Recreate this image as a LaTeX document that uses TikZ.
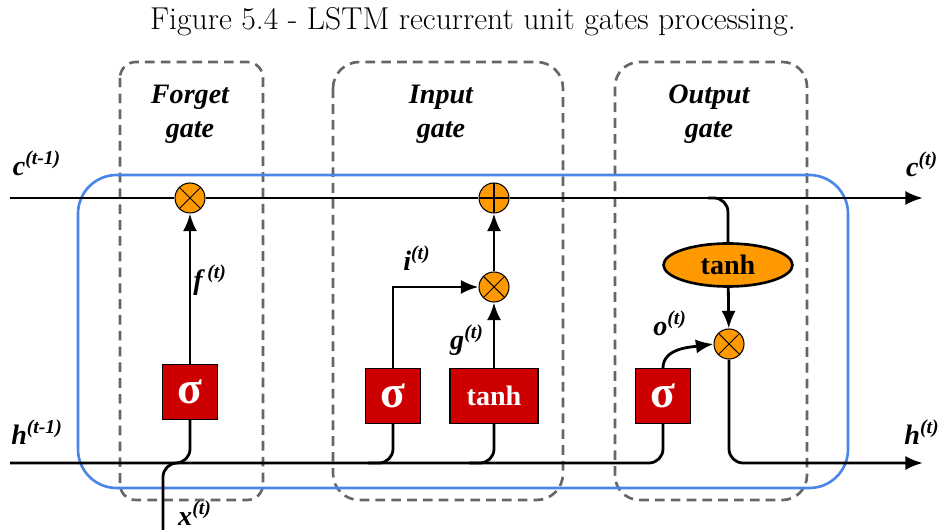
\documentclass[tikz,border=0pt]{standalone}
\usepackage{fontspec}
\newfontfamily\timesfont{Liberation Serif}
\definecolor{gateorange}{RGB}{255, 153, 0}
\definecolor{gatered}{RGB}{204, 0, 0}
\definecolor{cellblue}{RGB}{74, 134, 232}
\definecolor{dashgray}{RGB}{102, 102, 102}
\usetikzlibrary{shapes.geometric, arrows.meta, positioning, calc}

\begin{document}
\begin{tikzpicture}[x=0.02cm, y=-0.02cm,
    flow/.style={line width=1.6pt, black},
    arr/.style={flow, -{Latex[length=10pt, width=8pt]}},
    gatebox/.style={draw=dashgray, line width=1.5pt, dash pattern=on 5.5pt off 3.5pt},
    cellbox/.style={draw=cellblue, line width=1.5pt, rounded corners=22pt},
    sigbox/.style={draw, rectangle, fill=gatered, line width=0.6pt, minimum width=1.1cm, minimum height=1.1cm, inner sep=0pt, text=white, font=\timesfont\bfseries\fontsize{26}{26}\selectfont},
    tanhbox/.style={sigbox, minimum width=1.76cm, font=\timesfont\bfseries\fontsize{16}{16}\selectfont},
    tanhell/.style={draw, ellipse, fill=gateorange, line width=1.5pt, minimum width=2.58cm, minimum height=0.86cm, inner sep=0pt, font=\timesfont\bfseries\fontsize{16}{16}\selectfont},
    opcircle/.style={draw, circle, fill=gateorange, line width=0.6pt, minimum size=0.6cm, inner sep=0pt},
    mult/.style={opcircle, path picture={\draw[line width=0.6pt] (path picture bounding box.north west) -- (path picture bounding box.south east) (path picture bounding box.north east) -- (path picture bounding box.south west);}},
    addop/.style={opcircle, path picture={\draw[line width=0.6pt] (path picture bounding box.north) -- (path picture bounding box.south) (path picture bounding box.west) -- (path picture bounding box.east);}},
    lab/.style={font=\timesfont\bfseries\itshape\fontsize{16}{19.5}\selectfont, align=center, inner sep=1pt}]

\useasboundingbox (0,0) rectangle (941,530);

\node (caption) at (473,22) {\fontsize{18}{21}\selectfont Figure 5.4 - LSTM recurrent unit gates processing.};

% gate frames and cell
\draw[gatebox, rounded corners=9pt] (120,62) rectangle (263,500);
\draw[gatebox, rounded corners=15pt] (333,62) rectangle (563,500);
\draw[gatebox, rounded corners=14pt] (615,62) rectangle (807,500);
\draw[cellbox] (78,175) rectangle (848,488);

\node[lab] (fgl) at (190,114) {Forget\\gate};
\node[lab] (igl) at (441,114) {Input\\gate};
\node[lab] (ogl) at (709,114) {Output\\gate};

\coordinate (cin) at (10,198);
\coordinate (cout) at (923,198);
\coordinate (hin) at (10,463);
\coordinate (hout) at (923,463);
\coordinate (xin) at (163,532);

% operations
\node[sigbox] (fsig) at (190,392) {σ};
\node[mult] (fmul) at (190,198) {};
\node[sigbox] (isig) at (393,396) {σ};
\node[tanhbox] (itanh) at (494,396) {tanh};
\node[mult] (imul) at (494,287) {};
\node[addop] (add) at (494,198) {};
\node[tanhell] (otanh) at (728,265) {tanh};
\node[mult] (omul) at (729,344) {};
\node[sigbox] (osig) at (663,396) {σ};

% state lines
\draw[arr] (cin) -- (fmul) -- (add) -- (cout);
\draw[flow, rounded corners=8pt] (hin) -| (osig.south);
\draw[arr, rounded corners=8pt] (omul.south) |- (hout);
\draw[flow, rounded corners=8pt] (xin) |- (fsig.south |- hin) -- (fsig.south);
\draw[flow, rounded corners=8pt] ($(isig.south |- hin)+(-25,0)$) -| (isig.south);
\draw[flow, rounded corners=8pt] ($(itanh.south |- hin)+(-25,0)$) -| (itanh.south);
\draw[flow, rounded corners=8pt] ($(otanh.north |- cin)+(-20,0)$) -| (otanh.north);

% gate outputs
\draw[arr] (fsig) -- (fmul);
\draw[arr] (isig.north) |- (imul.west);
\draw[arr] (itanh) -- (imul);
\draw[arr] (imul) -- (add);
\draw[arr] (otanh) -- (omul);
\draw[arr] (osig.north) .. controls ($(osig.north)+(0,-20)$) and ($(omul.west)+(-22,3)$) .. (omul.west);

% signal labels
\node[lab] (cprev) at (37,163) {c\textsuperscript{(t-1)}};
\node[lab] (hprev) at (37,432) {h\textsuperscript{(t-1)}};
\node[lab] (cnext) at (922,164) {c\textsuperscript{(t)}};
\node[lab] (hnext) at (922,432) {h\textsuperscript{(t)}};
\node[lab] (xlab) at (195,513) {x\textsuperscript{(t)}};
\node[lab] (flab) at (210,280) {f\,\textsuperscript{(t)}};
\node[lab] (ilab) at (417,258) {i\textsuperscript{(t)}};
\node[lab] (glab) at (467,340) {g\textsuperscript{(t)}};
\node[lab] (olab) at (670,323) {o\textsuperscript{(t)}};
\end{tikzpicture}
\end{document}
